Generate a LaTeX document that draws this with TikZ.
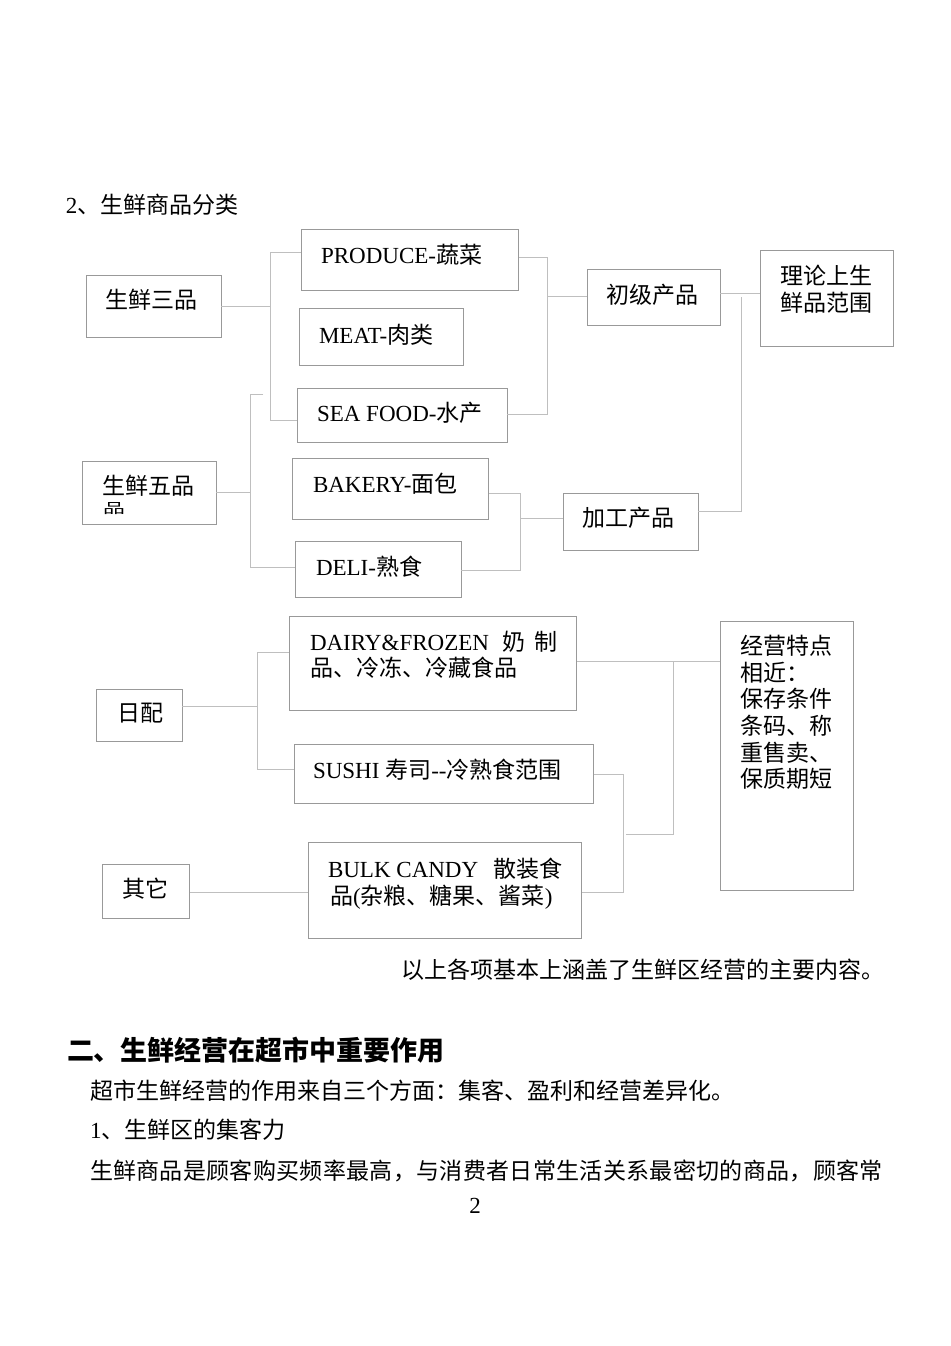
\documentclass[tikz,border=0pt]{standalone}
\usepackage{fontspec}
\setmainfont{Liberation Serif}
\newfontfamily\cjk{Noto Sans CJK SC}
\begin{document}
\begin{tikzpicture}[x=0.63pt,y=-0.63pt,
  font=\fontsize{14.5pt}{16.7pt}\selectfont,
  box/.style={draw=black!40,line width=0.6pt,minimum width=#1,inner sep=0pt},
  conn/.style={draw=black!25,line width=0.6pt},
  txt/.style={anchor=base west,inner sep=0pt,outer sep=0pt}]
\useasboundingbox[fill=white] (0,0) rectangle (950,1346);
% ---------- boxes ----------
\node[box=85.05pt,minimum height=39.06pt] (sanpin) at (153.5,306) {};
\node[box=137.3pt,minimum height=38.4pt] (produce) at (410,259.5) {};
\node[box=103.3pt,minimum height=35.9pt] (meat) at (381,336.5) {};
\node[box=132.3pt,minimum height=34.0pt] (seafood) at (402,415) {};
\node[box=84.4pt,minimum height=39.7pt] (wupin) at (149,492.5) {};
\node[box=122.9pt,minimum height=38.4pt] (bakery) at (390.5,488.5) {};
\node[box=104.6pt,minimum height=35.3pt] (deli) at (378,569) {};
\node[box=83.8pt,minimum height=35.3pt] (chuji) at (653.5,297) {};
\node[box=83.8pt,minimum height=59.9pt] (lilun) at (826.5,298.5) {};
\node[box=85.05pt,minimum height=36.5pt] (jiagong) at (630.5,522) {};
\node[box=181.4pt,minimum height=59.2pt] (dairy) at (433,663) {};
\node[box=188.4pt,minimum height=37.2pt] (sushi) at (443.5,773.5) {};
\node[box=54.2pt,minimum height=32.8pt] (ripei) at (139,715) {};
\node[box=55.4pt,minimum height=34.0pt] (qita) at (146,891) {};
\node[box=171.4pt,minimum height=60.5pt] (bulk) at (445,890) {};
\node[box=83.8pt,minimum height=169.5pt] (jingying) at (786.5,755.5) {};
% ---------- box texts ----------
\node[txt] (tsanpin) at (105,308.5) {\cjk 生鲜三品};
\node[txt] (tproduce) at (321,263) {PRODUCE-{\cjk 蔬菜}};
\node[txt] (tmeat) at (319,343) {MEAT-{\cjk 肉类}};
\node[txt] (tseafood) at (317,421) {SEA FOOD-{\cjk 水产}};
\node[txt] (twupin) at (102,494.5) {\cjk 生鲜五品};
\node[txt] (twupin2) at (103,513) {\cjk\scalebox{0.95}[0.6]{品}};
\node[txt] (tbakery) at (313,492) {BAKERY-{\cjk 面包}};
\node[txt] (tdeli) at (316,575) {DELI-{\cjk 熟食}};
\node[txt] (tchuji) at (606,303) {\cjk 初级产品};
\node[txt] (tlilun1) at (780,284.5) {\cjk 理论上生};
\node[txt] (tlilun2) at (780,311) {\cjk 鲜品范围};
\node[txt] (tjiagong) at (582,526) {\cjk 加工产品};
\node[txt] (tdairy1) at (310,650) {\hbox to 156pt{DAIRY\&FROZEN\hfill{\cjk 奶}\hspace{6pt}{\cjk 制}}};
\node[txt] (tdairy2) at (310,676) {\cjk 品、冷冻、冷藏食品};
\node[txt] (tripei) at (117,721.5) {\cjk 日配};
\node[txt] (tsushi) at (313,778) {SUSHI {\cjk 寿司}-{}-{\cjk 冷熟食范围}};
\node[txt] (tqita) at (122,897.5) {\cjk 其它};
\node[txt] (tbulk1) at (328,877) {\hbox to 148pt{BULK CANDY\hfill{\cjk 散装食}}};
\node[txt] (tbulk2) at (330,904) {{\cjk 品}({\cjk 杂粮、糖果、酱菜})};
\node[txt] (tjy1) at (740,654) {\cjk 经营特点};
\node[txt] (tjy2) at (740,681) {\cjk 相近：};
\node[txt] (tjy3) at (740,707.5) {\cjk 保存条件};
\node[txt] (tjy4) at (740,734) {\cjk 条码、称};
\node[txt] (tjy5) at (740,761) {\cjk 重售卖、};
\node[txt] (tjy6) at (740,787.5) {\cjk 保质期短};
% ---------- connectors ----------
\coordinate (a1) at (270,252); \coordinate (a2) at (270,420);
\draw[conn] (sanpin.east) -- (sanpin.east -| a1);
\draw[conn] (a1 -| produce.west) -- (a1) -- (a2) -- (a2 -| seafood.west);
\coordinate (b1) at (250,394); \coordinate (b2) at (250,567); \coordinate (b1s) at (263,394);
\draw[conn] (wupin.east) -- (wupin.east -| b1);
\draw[conn] (b1s) -- (b1) -- (b2) -- (b2 -| deli.west);
\coordinate (c1) at (547,257); \coordinate (c2) at (547,414); \coordinate (c3) at (547,296);
\draw[conn] (c1 -| produce.east) -- (c1) -- (c2) -- (c2 -| seafood.east);
\draw[conn] (c3) -- (c3 -| chuji.west);
\coordinate (d1) at (520,493); \coordinate (d2) at (520,570); \coordinate (d3) at (520,518);
\draw[conn] (d1 -| bakery.east) -- (d1) -- (d2) -- (d2 -| deli.east);
\draw[conn] (d3) -- (d3 -| jiagong.west);
\coordinate (e0) at (741,293); \coordinate (e1) at (741,297); \coordinate (e2) at (741,511);
\draw[conn] (e0 -| chuji.east) -- (e0 -| lilun.west);
\draw[conn] (e1) -- (e2) -- (e2 -| jiagong.east);
\coordinate (f0) at (257,706); \coordinate (f1) at (257,652); \coordinate (f2) at (257,769);
\draw[conn] (f0 -| ripei.east) -- (f0);
\draw[conn] (f1 -| dairy.west) -- (f1) -- (f2) -- (f2 -| sushi.west);
\coordinate (g0) at (250,892);
\draw[conn] (g0 -| qita.east) -- (g0 -| bulk.west);
\coordinate (h1) at (673,661); \coordinate (h2) at (673,834); \coordinate (h3) at (626,834);
\draw[conn] (h1 -| dairy.east) -- (h1 -| jingying.west);
\draw[conn] (h1) -- (h2) -- (h3);
\coordinate (k1) at (623,774); \coordinate (k2) at (623,892);
\draw[conn] (k1 -| sushi.east) -- (k1) -- (k2) -- (k2 -| bulk.east);
% ---------- page text ----------
\node[txt] (title) at (66,213.5) {2{\cjk 、生鲜商品分类}};
\node[anchor=base east,inner sep=0pt] (summary) at (885,978.5) {\cjk 以上各项基本上涵盖了生鲜区经营的主要内容。};
\node[txt] (heading) at (67,1060) {\fontsize{17pt}{20pt}\selectfont\cjk\bfseries 二、生鲜经营在超市中重要作用};
\node[txt] (body1) at (90,1099.5) {\cjk 超市生鲜经营的作用来自三个方面：集客、盈利和经营差异化。};
\node[txt] (body2) at (90,1138.5) {1{\cjk 、生鲜区的集客力}};
\node[txt] (body3) at (90,1179.5) {\cjk\hbox to 499.6pt{生\hfill 鲜\hfill 商\hfill 品\hfill 是\hfill 顾\hfill 客\hfill 购\hfill 买\hfill 频\hfill 率\hfill 最\hfill 高\hfill ，\hfill 与\hfill 消\hfill 费\hfill 者\hfill 日\hfill 常\hfill 生\hfill 活\hfill 关\hfill 系\hfill 最\hfill 密\hfill 切\hfill 的\hfill 商\hfill 品\hfill ，\hfill 顾\hfill 客\hfill 常}};
\node[anchor=base,inner sep=0pt] (pagenum) at (475,1213) {2};
\end{tikzpicture}
\end{document}
